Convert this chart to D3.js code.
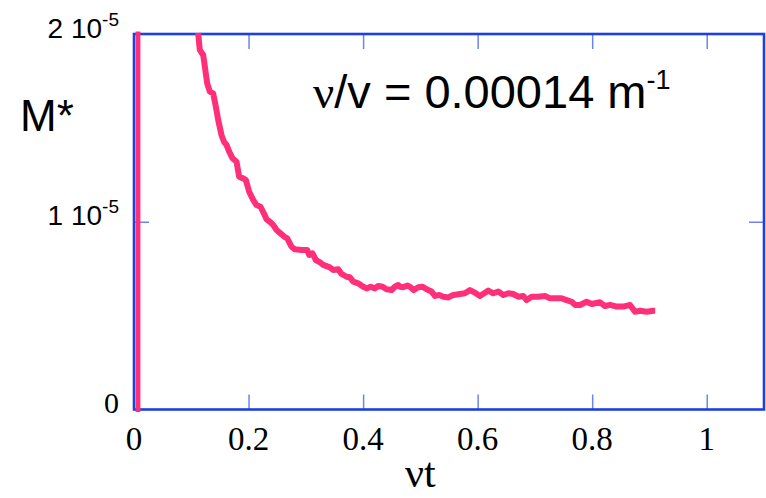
<!DOCTYPE html>
<html>
<head>
<meta charset="utf-8">
<script src="https://cdn.jsdelivr.net/npm/d3@7/dist/d3.min.js"></script>
<style>
  html, body { margin: 0; padding: 0; background: #fff; }
  svg { display: block; }
</style>
</head>
<body>
<svg id="chart" width="766" height="498"></svg>
<script>
// νt on the horizontal axis, M* (in units of 1e-5) on the vertical axis
const tValues = [
  0.1120, 0.1149, 0.1208, 0.1237, 0.1278, 0.1324, 0.1382, 0.1429, 0.1470, 0.1528,
  0.1569, 0.1615, 0.1662, 0.1720, 0.1790, 0.1836, 0.1906, 0.1953, 0.2011, 0.2081,
  0.2139, 0.2209, 0.2267, 0.2314, 0.2372, 0.2430, 0.2489, 0.2558, 0.2622, 0.2675,
  0.2750, 0.2809, 0.2925, 0.3024, 0.3059, 0.3117, 0.3176, 0.3257, 0.3304, 0.3420,
  0.3478, 0.3566, 0.3624, 0.3711, 0.3769, 0.3828, 0.3915, 0.4002, 0.4061, 0.4131,
  0.4206, 0.4264, 0.4340, 0.4410, 0.4497, 0.4555, 0.4614, 0.4643, 0.4701, 0.4771,
  0.4817, 0.4887, 0.4963, 0.5039, 0.5109, 0.5196, 0.5254, 0.5330, 0.5400, 0.5487,
  0.5574, 0.5691, 0.5778, 0.5866, 0.5953, 0.6040, 0.6128, 0.6186, 0.6273, 0.6360,
  0.6448, 0.6535, 0.6622, 0.6710, 0.6797, 0.6855, 0.6943, 0.7059, 0.7176, 0.7263,
  0.7379, 0.7467, 0.7554, 0.7641, 0.7700, 0.7787, 0.7903, 0.7991, 0.8136, 0.8224,
  0.8311, 0.8427, 0.8544, 0.8660, 0.8748, 0.8835, 0.8951, 0.9068, 0.9100];
const mValues = [
  2.005, 1.915, 1.888, 1.826, 1.737, 1.693, 1.684, 1.613, 1.542, 1.462,
  1.427, 1.409, 1.373, 1.338, 1.320, 1.240, 1.231, 1.222, 1.160, 1.116,
  1.089, 1.080, 1.045, 1.013, 1.000, 0.983, 0.956, 0.938, 0.921, 0.912,
  0.867, 0.853, 0.850, 0.850, 0.823, 0.832, 0.796, 0.782, 0.770, 0.757,
  0.743, 0.747, 0.722, 0.707, 0.704, 0.681, 0.672, 0.654, 0.645, 0.654,
  0.645, 0.658, 0.654, 0.640, 0.636, 0.654, 0.663, 0.654, 0.651, 0.660,
  0.654, 0.636, 0.651, 0.654, 0.640, 0.628, 0.605, 0.610, 0.601, 0.597,
  0.610, 0.615, 0.619, 0.636, 0.622, 0.605, 0.622, 0.633, 0.619, 0.628,
  0.610, 0.619, 0.615, 0.601, 0.605, 0.583, 0.601, 0.601, 0.605, 0.592,
  0.592, 0.592, 0.583, 0.574, 0.557, 0.557, 0.574, 0.562, 0.571, 0.551,
  0.557, 0.548, 0.548, 0.557, 0.521, 0.526, 0.521, 0.526, 0.526];
// initial spike at the start of the run
const spikeT = [0.007, 0.007];
const spikeM = [0, 2];

const xTicks = [0, 0.2, 0.4, 0.6, 0.8, 1];
const xTickLabels = ["0", "0.2", "0.4", "0.6", "0.8", "1"];
const yTicks = [0, 1, 2];
const yTickLabels = [["0", ""], ["1 10", "-5"], ["2 10", "-5"]];

const W = 766, H = 498;
const margin = { left: 134, right: 2, top: 34, bottom: 88.5 };
const x = d3.scaleLinear().domain([0, 1.1]).range([margin.left, W - margin.right]);
const y = d3.scaleLinear().domain([0, 2]).range([H - margin.bottom, margin.top]);

const svg = d3.select("#chart");
const blue = "#1f3fe3";
const tickBlue = "#6b86e6";
const pink = "#ff2f7a";

// inward ticks on all four sides
const tickLen = 15;
const axes = [
  d3.axisBottom(x).tickValues(xTicks.slice(1)).tickSize(-tickLen).tickFormat(""),
  d3.axisTop(x).tickValues(xTicks.slice(1)).tickSize(-tickLen).tickFormat(""),
  d3.axisLeft(y).tickValues([1]).tickSize(-tickLen).tickFormat(""),
  d3.axisRight(y).tickValues([1]).tickSize(-tickLen).tickFormat("")
];
const shifts = [
  `translate(0,${y(0)})`, `translate(0,${y(2)})`,
  `translate(${x(0)},0)`, `translate(${x(1.1)},0)`
];
axes.forEach((ax, i) => {
  const g = svg.append("g").attr("transform", shifts[i]).call(ax);
  g.select(".domain").remove();
  g.selectAll(".tick line").attr("stroke", tickBlue).attr("stroke-width", 1.5);
});

// frame
svg.append("rect")
  .attr("x", x(0)).attr("y", y(2))
  .attr("width", x(1.1) - x(0)).attr("height", y(0) - y(2))
  .attr("fill", "none").attr("stroke", blue).attr("stroke-width", 2.6);

// x tick labels
svg.append("g").selectAll("text").data(xTicks).join("text")
  .attr("x", d => x(d)).attr("y", y(0) + 40.5)
  .attr("text-anchor", "middle")
  .attr("font-family", "Liberation Serif, Times New Roman, serif")
  .attr("font-size", 33)
  .text((d, i) => xTickLabels[i]);

// y tick labels
yTicks.forEach((v, i) => {
  const [base, sup] = yTickLabels[i];
  const t = svg.append("text")
    .attr("x", x(0) - 15)
    .attr("y", y(v) + 3.5)
    .attr("text-anchor", "end");
  if (v === 0) {
    t.attr("font-family", "Liberation Serif, Times New Roman, serif")
      .attr("font-size", 30).text(base);
  } else {
    t.attr("font-family", "Liberation Sans, Arial, sans-serif").attr("font-size", 28);
    t.append("tspan").text(base);
    t.append("tspan").attr("font-size", 19).attr("dy", -12).text(sup);
  }
});

// axis titles
svg.append("text")
  .attr("x", 20).attr("y", 131)
  .attr("font-family", "Liberation Sans, Arial, sans-serif")
  .attr("font-size", 44)
  .text("M*");

svg.append("text")
  .attr("x", x(0.5)).attr("y", 487)
  .attr("text-anchor", "middle")
  .attr("font-family", "Liberation Serif, Times New Roman, serif")
  .attr("font-size", 42)
  .text("νt");

// annotation
const ann = svg.append("text")
  .attr("x", 313).attr("y", 108)
  .attr("font-family", "Liberation Sans, Arial, sans-serif")
  .attr("font-size", 47);
ann.append("tspan").attr("font-family", "Liberation Serif, Times New Roman, serif").text("ν");
ann.append("tspan").text("/v = 0.00014 m");
ann.append("tspan").attr("font-size", 27).attr("dy", -19).text("-1");

// data
const line = d3.line().x(d => x(d[0])).y(d => y(d[1]));
svg.append("path")
  .datum(d3.zip(spikeT, spikeM))
  .attr("d", line)
  .attr("fill", "none").attr("stroke", pink)
  .attr("stroke-width", 4.8).attr("stroke-linecap", "square");

svg.append("path")
  .datum(d3.zip(tValues, mValues))
  .attr("d", line)
  .attr("fill", "none").attr("stroke", pink)
  .attr("stroke-width", 6).attr("stroke-linejoin", "round");
</script>
</body>
</html>
